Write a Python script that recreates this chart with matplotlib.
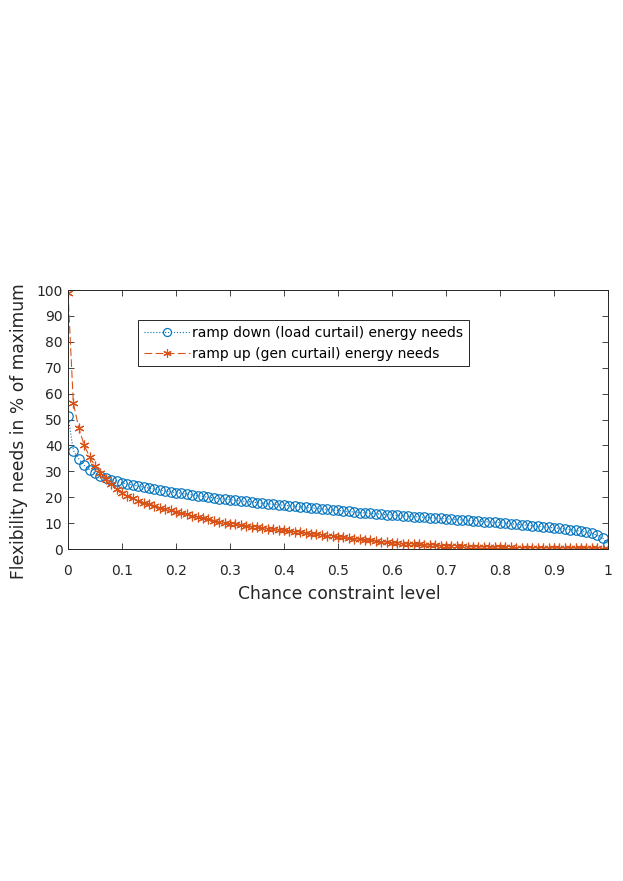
import numpy as np
import matplotlib
matplotlib.use("Agg")
import matplotlib.pyplot as plt

plt.rcParams['font.family'] = ['DejaVu Sans']

chance_level = [round(i * 0.01, 2) for i in range(101)]

ramp_down = [
    51.3, 38.0, 34.8, 32.3, 30.6, 29.3, 28.3, 27.5, 26.8, 26.2,
    25.6, 25.1, 24.7, 24.3, 23.9, 23.5, 23.1, 22.8, 22.4, 22.1,
    21.8, 21.5, 21.2, 20.9, 20.6, 20.3, 20.0, 19.8, 19.5, 19.3,
    19.0, 18.8, 18.6, 18.4, 18.2, 17.9, 17.7, 17.5, 17.3, 17.1,
    16.9, 16.7, 16.5, 16.3, 16.1, 15.9, 15.7, 15.5, 15.3, 15.1,
    14.9, 14.7, 14.5, 14.3, 14.1, 14.0, 13.8, 13.6, 13.5, 13.3,
    13.1, 13.0, 12.8, 12.7, 12.5, 12.4, 12.3, 12.1, 12.0, 11.8,
    11.7, 11.5, 11.4, 11.2, 11.1, 10.9, 10.8, 10.6, 10.5, 10.3,
    10.2, 10.0, 9.8, 9.6, 9.4, 9.2, 9.0, 8.8, 8.6, 8.4,
    8.2, 8.0, 7.8, 7.5, 7.2, 6.9, 6.5, 6.0, 5.3, 4.2,
    2.0,
]

ramp_up = [
    99.0, 56.2, 46.8, 40.1, 35.6, 32.2, 29.4, 27.2, 25.0, 23.3,
    21.8, 20.6, 19.6, 18.7, 17.9, 17.2, 16.6, 16.0, 15.4, 14.9,
    14.4, 13.9, 13.4, 12.9, 12.4, 11.9, 11.5, 11.0, 10.6, 10.2,
    9.8, 9.5, 9.2, 8.9, 8.6, 8.4, 8.1, 7.9, 7.6, 7.4,
    7.2, 6.9, 6.7, 6.4, 6.2, 5.9, 5.7, 5.4, 5.2, 4.9,
    4.7, 4.5, 4.2, 4.0, 3.8, 3.5, 3.3, 3.1, 2.9, 2.6,
    2.4, 2.3, 2.1, 2.0, 1.9, 1.8, 1.6, 1.5, 1.4, 1.3,
    1.2, 1.1, 1.0, 1.0, 0.9, 0.9, 0.8, 0.8, 0.7, 0.7,
    0.6, 0.6, 0.6, 0.5, 0.5, 0.5, 0.5, 0.5, 0.4, 0.4,
    0.4, 0.4, 0.4, 0.4, 0.3, 0.3, 0.3, 0.3, 0.3, 0.2,
    0.2,
]

x_ticks = [0, 0.1, 0.2, 0.3, 0.4, 0.5, 0.6, 0.7, 0.8, 0.9, 1]
x_tick_labels = ['0', '0.1', '0.2', '0.3', '0.4', '0.5', '0.6', '0.7', '0.8', '0.9', '1']
y_ticks = [0, 10, 20, 30, 40, 50, 60, 70, 80, 90, 100]

label_down = 'ramp down (load curtail) energy needs'
label_up = 'ramp up (gen curtail) energy needs'

blue = '#0072BD'
orange = '#D95319'
dark = '#262626'

fig = plt.figure(figsize=(6.23, 8.81), dpi=100)
ax = fig.add_axes([0.1091, 0.3768, 0.8668, 0.294])

ax.plot(chance_level, ramp_down, linestyle=':', color=blue, linewidth=0.8,
        marker='o', markersize=6.8, markerfacecolor='none', markeredgewidth=0.85,
        label=label_down)
ax.plot(chance_level, ramp_up, linestyle='--', color=orange, linewidth=0.8,
        dashes=(7, 3), marker=(6, 2, 0), markersize=7, markeredgewidth=0.85,
        label=label_up)

ax.set_xlim(0, 1)
ax.set_ylim(0, 100)
ax.set_xticks(x_ticks)
ax.set_xticklabels(x_tick_labels)
ax.set_yticks(y_ticks)

ax.tick_params(direction='in', length=4, width=0.6, colors=dark,
               labelsize=10, top=True, right=True)
ax.tick_params(axis='x', pad=10.5)
ax.tick_params(axis='y', pad=4)
for s in ax.spines.values():
    s.set_color(dark)
    s.set_linewidth(0.7)

ax.set_xlabel('Chance constraint level', fontsize=12.3, color=dark)
ax.set_ylabel('Flexibility needs in % of maximum', fontsize=12.3, color=dark)
ax.xaxis.set_label_coords(0.502, -0.137)
ax.yaxis.set_label_coords(-0.074, 0.456)

leg = ax.legend(loc='upper left', bbox_to_anchor=(0.13, 0.884), fontsize=10,
                frameon=True, fancybox=False, framealpha=1, edgecolor=dark,
                handlelength=3.3, handletextpad=0.2, borderpad=0.4,
                labelspacing=0.5, borderaxespad=0, markerscale=0.85)
leg.get_frame().set_linewidth(0.7)

fig.savefig('out.png', dpi=100)
